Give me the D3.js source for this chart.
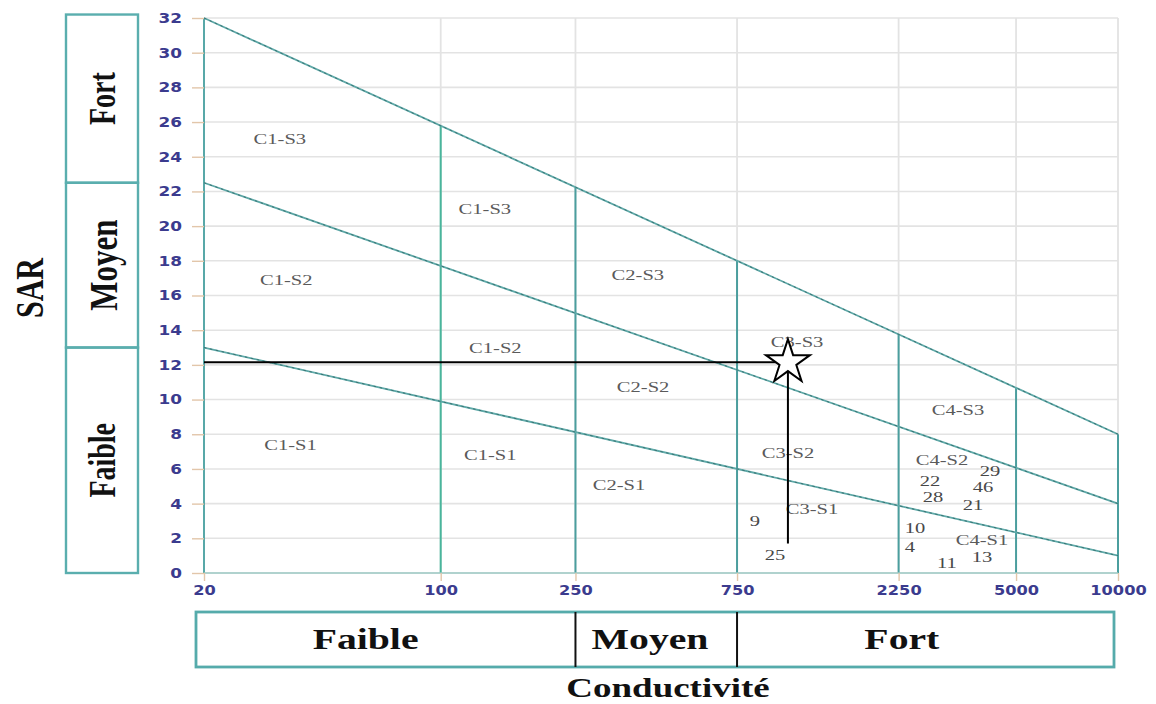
<!DOCTYPE html>
<html>
<head>
<meta charset="utf-8">
<script src="https://cdn.jsdelivr.net/npm/d3@7"></script>
<style>
  html, body { margin: 0; padding: 0; background: #fff; }
  svg { display: block; }
</style>
</head>
<body>
<svg id="chart" width="1156" height="704"></svg>
<script>
// Riverside diagram: SAR against conductivity (µS/cm), log scale on x.
const ecTicks = [20, 100, 250, 750, 2250, 5000, 10000];
const sarTicks = [0, 2, 4, 6, 8, 10, 12, 14, 16, 18, 20, 22, 24, 26, 28, 30, 32];
const ecDomain = [20, 10000];
const sarDomain = [0, 32];

// Sodium-hazard boundaries: SAR at ec = 20 and ec = 10000
const limitS3 = [32, 8];
const limitS2 = [22.5, 4];
const limitS1 = [13, 1];

// Salinity-class boundaries (vertical lines)
const ecBoundaries = [100, 250, 750, 2250, 5000, 10000];

// Zone labels
const zoneNames = ["C1-S3", "C1-S3", "C1-S2", "C2-S3", "C1-S2", "C3-S3", "C2-S2", "C1-S1",
                   "C1-S1", "C3-S2", "C2-S1", "C3-S1", "C4-S3", "C4-S2", "C4-S1"];
const zoneEC   = [33.5, 135, 35, 382, 145, 1128, 396, 36, 140, 1061, 336, 1249, 3369, 3021, 3967];
const zoneSAR  = [25.0, 21.0, 16.9, 17.2, 13.0, 13.3, 10.7, 7.4, 6.8, 6.9, 5.1, 3.7, 9.4, 6.5, 1.9];

// Water samples (numbered)
const sampleIds  = ["29", "22", "46", "28", "21", "10", "4", "13", "11", "9", "25"];
const sampleEC   = [4191, 2785, 3994, 2843, 3731, 2516, 2431, 3967, 3126, 847, 971];
const sampleSAR  = [5.9, 5.3, 4.96, 4.4, 3.9, 2.6, 1.5, 0.92, 0.58, 3.0, 1.04];

// Class bands along the axes
const sarClassNames = ["Faible", "Moyen", "Fort"];
const sarClassBounds = [0, 13, 22.5, 32.2];
const sarClassFont = [28, 31, 28];
const ecClassNames = ["Faible", "Moyen", "Fort"];
const ecClassBounds = [20, 250, 750, 10000];
const ecClassLabelAt = [60, 415, 2300];

// Highlighted mean point
const markedEC = 1060;
const markedSAR = 12.15;
const markedDropTo = 1.7;

const svg = d3.select("#chart");
const x = d3.scaleLog().domain(ecDomain).range([204, 1118]);
const y = d3.scaleLinear().domain(sarDomain).range([573, 18]);

const serif = "'Liberation Serif', 'Times New Roman', serif";
const sans = "'DejaVu Sans', Verdana, sans-serif";
const STRETCH = 1.37;

const lerpLimit = (lim, ec) => {
  const t = (Math.log10(ec) - Math.log10(ecDomain[0])) / (Math.log10(ecDomain[1]) - Math.log10(ecDomain[0]));
  return lim[0] + (lim[1] - lim[0]) * t;
};

// grid
const grid = svg.append("g");
grid.selectAll("line.h").data(sarTicks).join("line")
  .attr("x1", x(ecDomain[0])).attr("x2", x(ecDomain[1]))
  .attr("y1", d => y(d)).attr("y2", d => y(d))
  .attr("stroke", "#e3e3e3").attr("stroke-width", 1.6);
grid.selectAll("line.v").data(ecTicks).join("line")
  .attr("x1", d => x(d)).attr("x2", d => x(d))
  .attr("y1", y(0)).attr("y2", y(32))
  .attr("stroke", "#e3e3e3").attr("stroke-width", 1.8);

// vertical class boundaries up to the upper limit line
svg.append("g").selectAll("line").data(ecBoundaries).join("line")
  .attr("x1", d => x(d)).attr("x2", d => x(d))
  .attr("y1", y(0)).attr("y2", d => y(lerpLimit(limitS3, d)))
  .attr("stroke", (d, i) => i === 0 ? "#49b59c" : "#4b9e9e")
  .attr("stroke-width", 2);

// axes lines
svg.append("line")
  .attr("x1", x(20)).attr("x2", x(20)).attr("y1", y(0)).attr("y2", y(32))
  .attr("stroke", "#58a8a8").attr("stroke-width", 2);
svg.append("line")
  .attr("x1", x(20)).attr("x2", x(10000)).attr("y1", y(0)).attr("y2", y(0))
  .attr("stroke", "#9ccac4").attr("stroke-width", 1.6);

// sodium-hazard lines
const limitLine = d3.line().x(d => x(d[0])).y(d => y(d[1]));
[limitS3, limitS2, limitS1].forEach(lim => {
  const pts = [[ecDomain[0], lim[0]], [ecDomain[1], lim[1]]];
  svg.append("path").attr("d", limitLine(pts))
    .attr("fill", "none").attr("stroke", "#5ea9a8").attr("stroke-width", 1.8);
  svg.append("path").attr("d", limitLine(pts))
    .attr("fill", "none").attr("stroke", "#3a7474").attr("stroke-width", 1)
    .attr("stroke-dasharray", "2.5,3.5");
});

// y axis
const yAxis = svg.append("g").attr("transform", `translate(${x(20)},0)`)
  .call(d3.axisLeft(y).tickValues(sarTicks).tickSize(12).tickPadding(0).tickFormat(d3.format("d")));
yAxis.select(".domain").remove();
yAxis.selectAll(".tick line").attr("stroke", "#e2c6aa").attr("stroke-width", 1.4);
yAxis.selectAll(".tick text").remove();
yAxis.selectAll(".tick").append("text")
  .attr("transform", `translate(-22,0) scale(1.25,1)`)
  .attr("text-anchor", "end").attr("dominant-baseline", "central")
  .attr("fill", "#3b3b8e").attr("font-family", sans).attr("font-weight", "bold")
  .attr("font-size", 13.5)
  .text(d => d);

// x axis
const xAxis = svg.append("g").attr("transform", `translate(0,${y(0)})`)
  .call(d3.axisBottom(x).tickValues(ecTicks).tickSize(8).tickFormat(d3.format("d")));
xAxis.select(".domain").remove();
xAxis.selectAll(".tick line").attr("stroke", "#e2c6aa").attr("stroke-width", 1.4);
xAxis.selectAll(".tick text").remove();
xAxis.selectAll(".tick").append("text")
  .attr("transform", `translate(0,17) scale(1.2,1)`)
  .attr("text-anchor", "middle").attr("dominant-baseline", "central")
  .attr("fill", "#3b3b8e").attr("font-family", sans).attr("font-weight", "bold")
  .attr("font-size", 13.5)
  .text(d => d);

// zone labels
svg.append("g").selectAll("text").data(zoneNames).join("text")
  .attr("transform", (d, i) => `translate(${x(zoneEC[i])},${y(zoneSAR[i])}) scale(${STRETCH},1)`)
  .attr("text-anchor", "middle").attr("dominant-baseline", "central")
  .attr("font-family", serif).attr("font-size", 15).attr("fill", "#5a5a5a")
  .text(d => d);

// sample numbers
svg.append("g").selectAll("text").data(sampleIds).join("text")
  .attr("transform", (d, i) => `translate(${x(sampleEC[i])},${y(sampleSAR[i])}) scale(${STRETCH},1)`)
  .attr("text-anchor", "middle").attr("dominant-baseline", "central")
  .attr("font-family", serif).attr("font-size", 15).attr("fill", "#484848")
  .text(d => d);

// marked point with guide lines
svg.append("line")
  .attr("x1", x(20)).attr("x2", x(markedEC))
  .attr("y1", y(markedSAR)).attr("y2", y(markedSAR))
  .attr("stroke", "#000").attr("stroke-width", 2);
svg.append("line")
  .attr("x1", x(markedEC)).attr("x2", x(markedEC))
  .attr("y1", y(markedSAR)).attr("y2", y(markedDropTo))
  .attr("stroke", "#000").attr("stroke-width", 2);
svg.append("path")
  .attr("d", d3.symbol(d3.symbolStar, 600)())
  .attr("transform", `translate(${x(markedEC)},${y(markedSAR)})`)
  .attr("fill", "#fff").attr("stroke", "#000").attr("stroke-width", 2);

// SAR class band on the left
const leftBand = svg.append("g");
sarClassNames.forEach((name, i) => {
  const top = y(sarClassBounds[i + 1]), bottom = y(sarClassBounds[i]);
  leftBand.append("rect")
    .attr("x", 66).attr("y", top).attr("width", 72).attr("height", bottom - top)
    .attr("fill", "none").attr("stroke", "#5aaeae").attr("stroke-width", 2.4);
  leftBand.append("text")
    .attr("transform", `translate(103,${(top + bottom) / 2}) scale(1.32,1) rotate(-90)`)
    .attr("text-anchor", "middle").attr("dominant-baseline", "central")
    .attr("font-family", serif).attr("font-weight", "bold")
    .attr("font-size", sarClassFont[i]).attr("fill", "#111")
    .text(name);
});

// y title
svg.append("text")
  .attr("transform", `translate(29,288) scale(1.35,1) rotate(-90)`)
  .attr("text-anchor", "middle").attr("dominant-baseline", "central")
  .attr("font-family", serif).attr("font-weight", "bold")
  .attr("font-size", 30).attr("fill", "#111")
  .text("SAR");

// conductivity class band at the bottom
const bandTop = 612, bandBottom = 667;
const bottomBand = svg.append("g");
bottomBand.append("rect")
  .attr("x", x(ecClassBounds[0]) - 8).attr("y", bandTop)
  .attr("width", x(ecClassBounds[3]) - 4 - (x(ecClassBounds[0]) - 8))
  .attr("height", bandBottom - bandTop)
  .attr("fill", "none").attr("stroke", "#55abab").attr("stroke-width", 2.8);
[ecClassBounds[1], ecClassBounds[2]].forEach(b => {
  bottomBand.append("line")
    .attr("x1", x(b)).attr("x2", x(b)).attr("y1", bandTop).attr("y2", bandBottom)
    .attr("stroke", "#111").attr("stroke-width", 2);
});
ecClassNames.forEach((name, i) => {
  bottomBand.append("text")
    .attr("transform", `translate(${x(ecClassLabelAt[i])},${(bandTop + bandBottom) / 2}) scale(${STRETCH},1)`)
    .attr("text-anchor", "middle").attr("dominant-baseline", "central")
    .attr("font-family", serif).attr("font-weight", "bold")
    .attr("font-size", 29).attr("fill", "#111")
    .text(name);
});

// x title
svg.append("text")
  .attr("transform", `translate(668,688) scale(${STRETCH},1)`)
  .attr("text-anchor", "middle").attr("dominant-baseline", "central")
  .attr("font-family", serif).attr("font-weight", "bold")
  .attr("font-size", 27).attr("fill", "#111")
  .text("Conductivité");
</script>
</body>
</html>
